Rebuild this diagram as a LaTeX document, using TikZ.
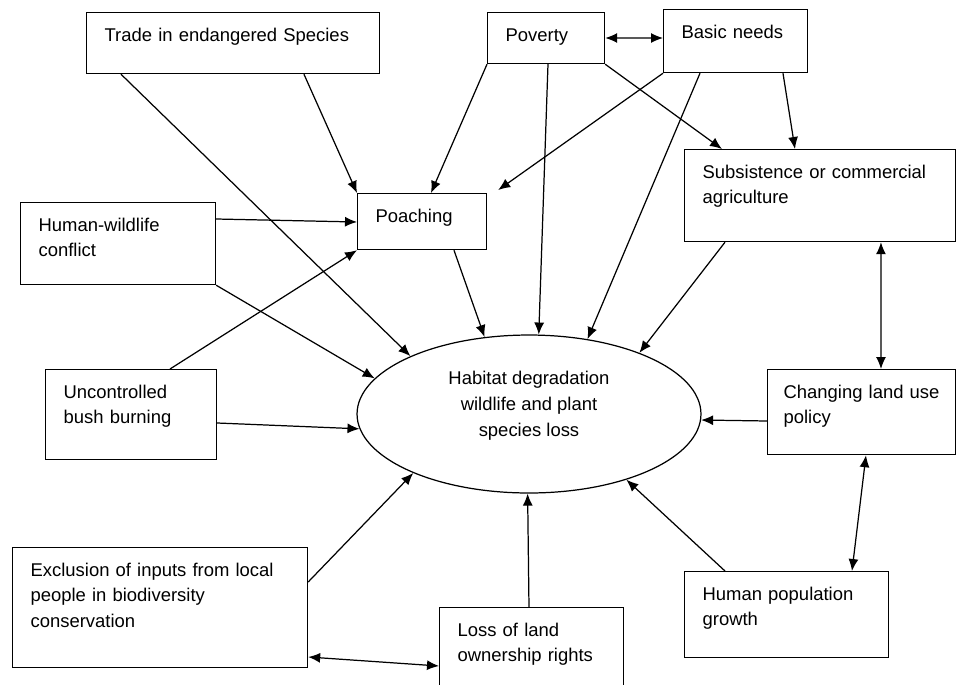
\documentclass[tikz,border=0pt]{standalone}
\usepackage{fontspec}
\setmainfont{Liberation Sans}
\usetikzlibrary{shapes.geometric,arrows.meta}

\begin{document}
\begin{tikzpicture}[x=0.02cm, y=-0.02cm,
  every node/.style={font=\fontsize{10.5}{14.7}\selectfont},
  box/.style={draw, line width=0.7pt, anchor=north west, align=left, inner xsep=0.36cm, inner ysep=0pt, text height=0.57cm},
  hab/.style={draw, line width=0.7pt, ellipse, inner sep=0pt, minimum width=6.88cm, minimum height=3.16cm, align=center},
  arr/.style={line width=0.7pt, -{Latex[length=0.24cm,width=0.2cm]}},
  dbl/.style={line width=0.7pt, {Latex[length=0.24cm,width=0.2cm]}-{Latex[length=0.24cm,width=0.2cm]}}]
\useasboundingbox (0,0) rectangle (959,684);

% boxes
\node[box, text width=5.14cm, text depth=0.65cm] (trade) at (86,12) {Trade in endangered Species};
\node[box, text width=1.62cm, text depth=0.45cm] (poverty) at (487,12) {Poverty};
\node[box, text width=2.16cm, text depth=0.69cm] (basic) at (663,9) {Basic needs};
\node[box, text width=4.70cm, text depth=1.27cm] (agri) at (684,149) {Subsistence or commercial\\agriculture};
\node[box, text width=3.18cm, text depth=1.07cm] (conflict) at (20,202) {Human-wildlife\\conflict};
\node[box, text width=1.86cm, text depth=0.55cm] (poaching) at (357,193) {Poaching};
\node[box, text width=2.70cm, text depth=1.23cm] (burning) at (45,369) {Uncontrolled\\bush burning};
\node[box, inner xsep=0.32cm, text width=3.12cm, text depth=1.13cm] (policy) at (767,369) {Changing land use\\policy};
\node[box, text width=3.36cm, text depth=1.15cm] (population) at (684,571) {Human population\\growth};
\node[box, text width=5.18cm, text depth=1.83cm] (exclusion) at (12,547) {Exclusion of inputs from local\\people in biodiversity\\conservation};
\node[box, text width=2.96cm, text depth=1.23cm] (landrights) at (439,607) {Loss of land\\ownership rights};

% centre
\node[hab] (habitat) at (529,414) {Habitat degradation\\wildlife and plant\\species loss\\[-3pt]\mbox{}};

% arrows
\draw[arr] ([xshift=0.7cm]trade.south west) -- (habitat.154);
\draw[arr] ([xshift=4.36cm]trade.south west) -- (poaching.north west);
\draw[dbl] ([yshift=-0.52cm]poverty.north east) -- ([yshift=-0.58cm]basic.north west);
\draw[arr] (poverty.south west) -- ([xshift=1.48cm]poaching.north west);
\draw[arr] ([xshift=1.22cm]poverty.south west) -- (habitat.83);
\draw[arr] (poverty.south east) -- ([xshift=0.76cm]agri.north west);
\draw[arr] (basic.south west) -- ([xshift=0.22cm,yshift=0.06cm]poaching.north east);
\draw[arr] ([xshift=0.74cm]basic.south west) -- (habitat.52);
\draw[arr] ([xshift=2.4cm]basic.south west) -- ([xshift=2.22cm]agri.north west);
\draw[arr] ([yshift=-0.34cm]conflict.north east) -- ([yshift=-0.58cm]poaching.north west);
\draw[arr] (conflict.south east) -- (habitat.167);
\draw[arr] ([xshift=2.5cm]burning.north west) -- (poaching.south west);
\draw[arr] ([yshift=-1.08cm]burning.north east) -- (habitat.185);
\draw[arr] ([xshift=1.94cm]poaching.south west) -- (habitat.120);
\draw[arr] ([xshift=0.82cm]agri.south west) -- (habitat.29);
\draw[dbl] ([xshift=3.94cm]agri.south west) -- ([xshift=2.28cm]policy.north west);
\draw[arr] ([yshift=-1.04cm]policy.north west) -- (habitat.358);
\draw[dbl] ([xshift=1.98cm]policy.south west) -- ([xshift=3.36cm]population.north west);
\draw[arr] ([xshift=0.82cm]population.north west) -- (habitat.326);
\draw[arr] ([xshift=1.8cm]landrights.north west) -- (habitat.269);
\draw[arr] ([yshift=-0.7cm]exclusion.north east) -- (habitat.207);
\draw[dbl] ([yshift=-2.2cm]exclusion.north east) -- ([yshift=-1.18cm]landrights.north west);
\end{tikzpicture}
\end{document}
